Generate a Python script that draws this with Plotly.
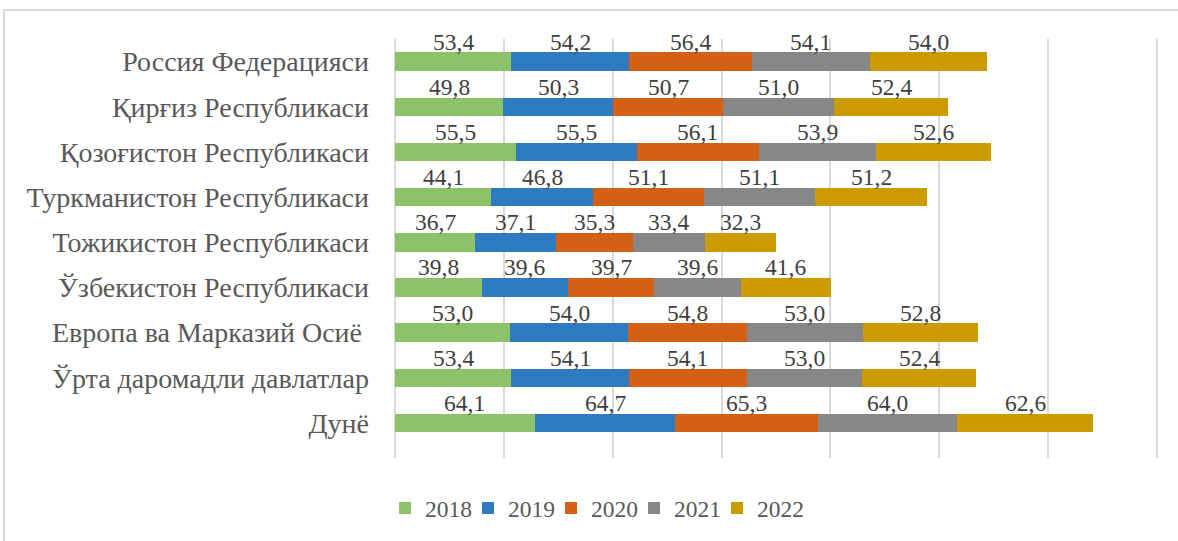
import plotly.graph_objects as go

categories = [
    "Россия Федерацияси",
    "Қирғиз Республикаси",
    "Қозоғистон Республикаси",
    "Туркманистон Республикаси",
    "Тожикистон Республикаси",
    "Ўзбекистон Республикаси",
    "Европа ва Марказий Осиё\u00a0",
    "Ўрта даромадли давлатлар",
    "Дунё",
]
years = ["2018", "2019", "2020", "2021", "2022"]
v2018 = [53.4, 49.8, 55.5, 44.1, 36.7, 39.8, 53.0, 53.4, 64.1]
v2019 = [54.2, 50.3, 55.5, 46.8, 37.1, 39.6, 54.0, 54.1, 64.7]
v2020 = [56.4, 50.7, 56.1, 51.1, 35.3, 39.7, 54.8, 54.1, 65.3]
v2021 = [54.1, 51.0, 53.9, 51.1, 33.4, 39.6, 53.0, 53.0, 64.0]
v2022 = [54.0, 52.4, 52.6, 51.2, 32.3, 41.6, 52.8, 52.4, 62.6]
series = [v2018, v2019, v2020, v2021, v2022]
colors = ["#8DC26A", "#2F7BC2", "#D46015", "#878787", "#CC9B00"]

FONT = "Liberation Serif"

# plot area geometry (px) used to place the individual legend entries
PLOT_L, PLOT_W = 394, 764
LEG_X0, LEG_STEP = 385, 83

fig = go.Figure()
legend_layouts = {}
for k, (name, vals, col) in enumerate(zip(years, series, colors)):
    lname = "legend" if k == 0 else f"legend{k + 1}"
    fig.add_trace(go.Bar(
        y=categories, x=vals, name=name, orientation="h",
        marker=dict(color=col, line=dict(width=0)),
        hoverinfo="x+name", legend=lname,
    ))
    legend_layouts[lname] = dict(
        orientation="h", x=(LEG_X0 + LEG_STEP * k - PLOT_L) / PLOT_W,
        xanchor="left", y=-0.117, yanchor="middle",
        font=dict(family=FONT, size=23.5, color="#595959"),
        itemwidth=30, bgcolor="rgba(0,0,0,0)",
    )

annotations = []
cum = [0.0] * len(categories)
for vals in series:
    for i, v in enumerate(vals):
        annotations.append(dict(
            x=cum[i] + v / 2, y=categories[i], xref="x", yref="y",
            text=f"{v:.1f}".replace(".", ","), showarrow=False,
            yshift=20, font=dict(family=FONT, size=23.5, color="#404040"),
        ))
        cum[i] += v

fig.update_layout(
    width=1178, height=541,
    margin=dict(l=PLOT_L, r=1178 - PLOT_L - PLOT_W, t=39, b=82),
    paper_bgcolor="white", plot_bgcolor="white",
    barmode="stack", bargap=0.59,
    font=dict(family=FONT, color="#595959"),
    annotations=annotations,
    showlegend=True,
    shapes=[dict(
        type="rect", xref="paper", yref="paper",
        x0=-0.5105, x1=1.2, y0=-0.5, y1=1.069,
        line=dict(color="#D9D9D9", width=2), fillcolor="rgba(0,0,0,0)", layer="below",
    )],
    **legend_layouts,
)
fig.update_xaxes(
    range=[-0.5, 350.5], dtick=50, tick0=0, showticklabels=False,
    showgrid=True, gridcolor="#D9D9D9", gridwidth=1.5,
    zeroline=True, zerolinecolor="#D9D9D9", zerolinewidth=1.5,
    showline=False,
)
fig.update_yaxes(
    categoryorder="array", categoryarray=categories, autorange="reversed",
    tickfont=dict(family=FONT, size=28, color="#595959"),
    ticklabelstandoff=24, showgrid=False, zeroline=False, showline=False,
)

fig.write_html(
    "out.html",
    config={"displayModeBar": False},
    post_script="document.body.style.margin='0';",
)
